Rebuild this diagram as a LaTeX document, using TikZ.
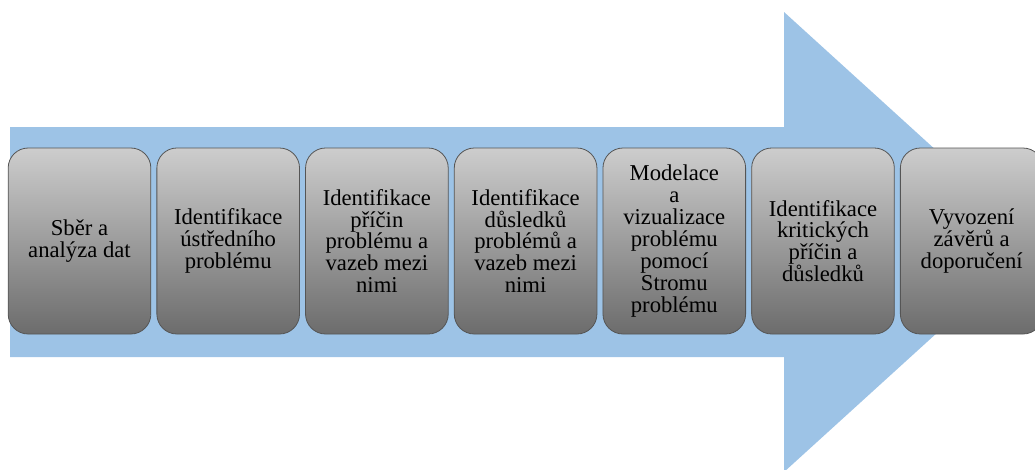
\documentclass[tikz,border=0pt]{standalone}
\usepackage{fontspec}
\setmainfont{Liberation Serif}
\usepackage{xcolor}
\usepackage{tikz}
\usetikzlibrary{positioning}

\definecolor{arrowblue}{RGB}{157,195,230}
\definecolor{boxtop}{RGB}{205,205,205}
\definecolor{boxbottom}{RGB}{108,108,108}
\definecolor{boxline}{RGB}{85,85,85}

\tikzset{
  stepbox/.style={draw=boxline, line width=0.6pt, rounded corners=15pt,
    top color=boxtop, bottom color=boxbottom,
    minimum width=107pt, minimum height=139.5pt, inner sep=2pt,
    align=center, font=\fontsize{17}{16.4}\selectfont}
}

\begin{document}
\begin{tikzpicture}[x=0.75pt, y=-0.75pt]
  \useasboundingbox (0,0) rectangle (1035,469);
  % --- Background arrow ---
  \fill[arrowblue] (10,127) -- (784,127) -- (784,12) -- (1037,242)
    -- (784,472) -- (784,357) -- (10,357) -- cycle;
  % --- Steps ---
  \node[stepbox] (sber) at (79.5,241) {Sběr a\\analýza dat};
  \node[stepbox] (ustred) at (228.2,241) {Identifikace\\ústředního\\problému};
  \node[stepbox] (priciny) at (376.9,241) {Identifikace\\příčin\\problému a\\vazeb mezi\\nimi};
  \node[stepbox] (dusledky) at (525.6,241) {Identifikace\\důsledků\\problémů a\\vazeb mezi\\nimi};
  \node[stepbox] (strom) at (674.3,241) {Modelace\\a\\vizualizace\\problému\\pomocí\\Stromu\\problému};
  \node[stepbox] (kriticke) at (823.0,241) {Identifikace\\kritických\\příčin a\\důsledků};
  \node[stepbox] (zavery) at (971.7,241) {Vyvození\\závěrů a\\doporučení};
\end{tikzpicture}
\end{document}
